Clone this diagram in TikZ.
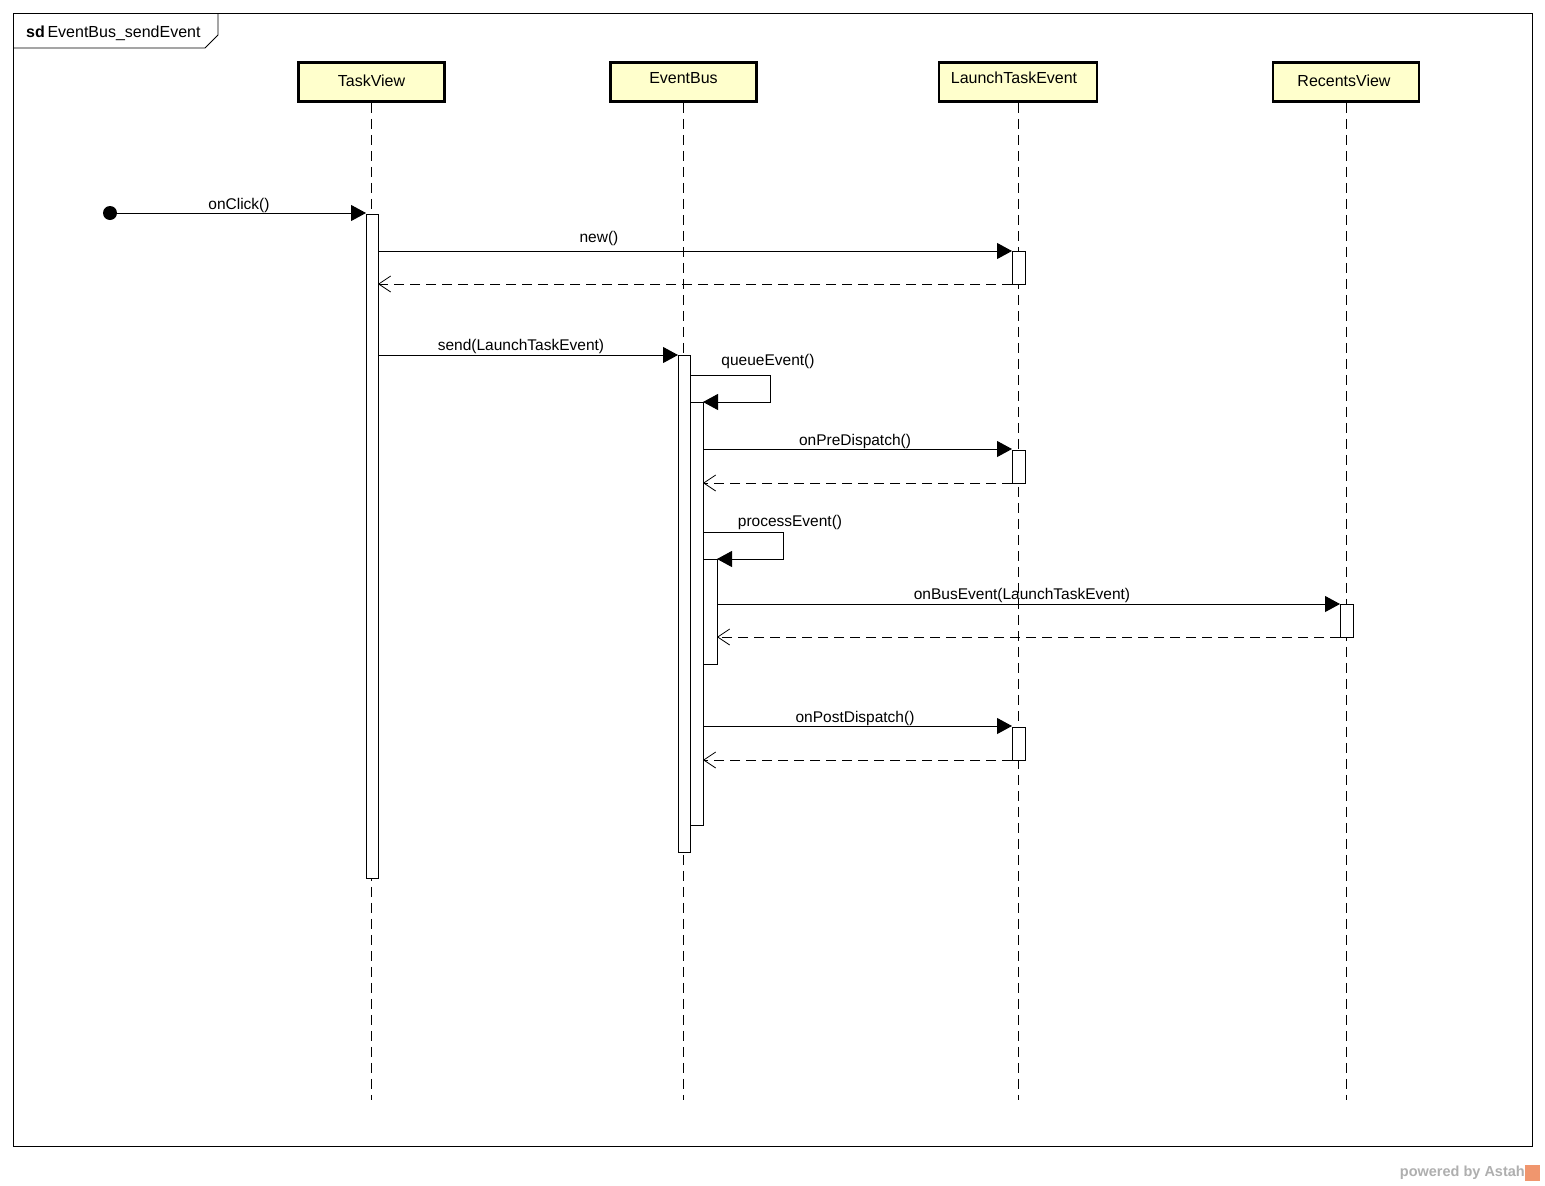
\documentclass[tikz,border=0pt]{standalone}
\usepackage{fontspec}
\setmainfont{Liberation Sans}
\usetikzlibrary{arrows.meta}
\definecolor{headfill}{RGB}{255,255,204}
\definecolor{astahgrey}{RGB}{175,175,175}
\definecolor{astahorange}{RGB}{240,150,110}
\begin{document}
\begin{tikzpicture}[x=1pt,y=-1pt,
  head/.style={draw, line width=2.5pt, fill=headfill, minimum width=146pt, minimum height=39pt, inner sep=0pt},
  hlabel/.style={font=\fontsize{16}{19}\selectfont, inner sep=0pt},
  life/.style={dash pattern=on 10pt off 6pt, line width=0.8pt},
  act/.style={draw, fill=white, line width=0.8pt},
  msg/.style={line width=1pt, -{Triangle[length=15pt,width=16pt]}},
  ret/.style={line width=0.8pt, dash pattern=on 10pt off 6pt, -{Straight Barb[length=12pt,width=16pt,line width=0.8pt]}},
  lbl/.style={font=\fontsize{15.5}{18}\selectfont, inner sep=0pt}
]
\useasboundingbox (0,0) rectangle (1545,1186);
\fill[white] (0,0) rectangle (1545,1186);

% frame
\draw[line width=0.9pt] (13,13) rectangle (1532,1146);
\draw[line width=0.9pt] (13,48) -- (205,48) -- (218,35) -- (218,13);
\node[lbl, anchor=west, font=\fontsize{16}{19}\selectfont] (title) at (26,33) {\textbf{sd}\,EventBus\_sendEvent};

% lifeline heads
\node[head] (tv) at (371.5,82) {};
\node[head] (eb) at (683.5,82) {};
\node[head, minimum width=158pt] (lte) at (1018,82) {};
\node[head] (rv) at (1346,82) {};
\node[hlabel] (tvl) at (371.5,81) {TaskView};
\node[hlabel] (ebl) at (683.5,78) {EventBus};
\node[hlabel] (ltel) at (1014,78) {LaunchTaskEvent};
\node[hlabel] (rvl) at (1344,81) {RecentsView};

% lifelines
\coordinate (tvend) at (371.5,1100);
\coordinate (ebend) at (683.5,1100);
\coordinate (lteend) at (1018,1100);
\coordinate (rvend) at (1346,1100);
\draw[life] (tv.south) -- (tvend);
\draw[life] (eb.south) -- (ebend);
\draw[life] (lte.south) -- (lteend);
\draw[life] (rv.south) -- (rvend);

% activation bars
\draw[act] (366,214) rectangle (378,878);
\draw[act] (678,355) rectangle (690,852);
\draw[act] (690,402) rectangle (703,825);
\draw[act] (703,559) rectangle (717,664);
\draw[act] (1012,251) rectangle (1025,284);
\draw[act] (1012,450) rectangle (1025,483);
\draw[act] (1012,727) rectangle (1025,760);
\draw[act] (1340,604) rectangle (1353,637);

% message endpoints
\coordinate (start) at (110,213);
\coordinate (tvA) at (366,213);
\coordinate (tvB) at (378,251);
\coordinate (lteA) at (1012,251);
\coordinate (lteAr) at (1012,284);
\coordinate (tvBr) at (378,284);
\coordinate (tvC) at (378,355);
\coordinate (ebA) at (678,355);
\coordinate (ebQ1) at (690,375);
\coordinate (ebQ2) at (770,375);
\coordinate (ebQ3) at (770,402);
\coordinate (ebQ4) at (703,402);
\coordinate (ebP) at (703,449);
\coordinate (lteP) at (1012,449);
\coordinate (ltePr) at (1012,483);
\coordinate (ebPr) at (703,483);
\coordinate (ebR1) at (703,532);
\coordinate (ebR2) at (783,532);
\coordinate (ebR3) at (783,559);
\coordinate (ebR4) at (717,559);
\coordinate (ebS) at (717,604);
\coordinate (rvS) at (1340,604);
\coordinate (rvSr) at (1340,637);
\coordinate (ebSr) at (717,637);
\coordinate (ebT) at (703,726);
\coordinate (lteT) at (1012,726);
\coordinate (lteTr) at (1012,760);
\coordinate (ebTr) at (703,760);

% messages
\fill (start) circle (7);
\draw[msg] (start) -- (tvA);
\node[lbl] (l1) at (239,205) {onClick()};
\draw[msg] (tvB) -- (lteA);
\node[lbl] (l2) at (599,238) {new()};
\draw[ret] (lteAr) -- (tvBr);
\draw[msg] (tvC) -- (ebA);
\node[lbl] (l3) at (521,346) {send(LaunchTaskEvent)};
\draw[msg] (ebQ1) -- (ebQ2) -- (ebQ3) -- (ebQ4);
\node[lbl] (l4) at (768,361) {queueEvent()};
\draw[msg] (ebP) -- (lteP);
\node[lbl] (l5) at (855,441) {onPreDispatch()};
\draw[ret] (ltePr) -- (ebPr);
\draw[msg] (ebR1) -- (ebR2) -- (ebR3) -- (ebR4);
\node[lbl] (l6) at (790,522) {processEvent()};
\draw[msg] (ebS) -- (rvS);
\node[lbl] (l7) at (1022,595) {onBusEvent(LaunchTaskEvent)};
\draw[ret] (rvSr) -- (ebSr);
\draw[msg] (ebT) -- (lteT);
\node[lbl] (l8) at (855,718) {onPostDispatch()};
\draw[ret] (lteTr) -- (ebTr);

% watermark
\node[anchor=east, inner sep=0pt, text=astahgrey, font=\fontsize{14.5}{17}\bfseries] (wm) at (1525,1173) {powered by Astah};
\fill[astahorange] (1525,1165) rectangle (1540,1181);
\end{tikzpicture}
\end{document}
